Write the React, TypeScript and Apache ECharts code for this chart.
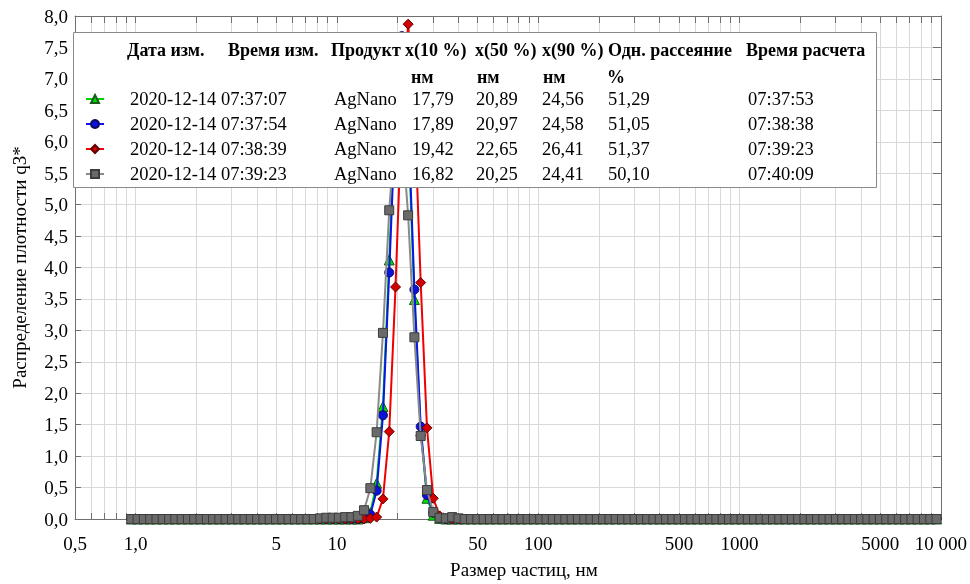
import React, { useEffect, useRef } from 'react';
import * as echarts from 'echarts';

const FONT = 'Liberation Serif';

// particle size classes (nm)
const sizes = [
  0.952,
  1.023, 1.099, 1.181, 1.270, 1.364, 1.466, 1.575, 1.693, 1.819, 1.955, 2.101, 2.258, 2.426, 2.607, 2.801, 3.010,
  3.235, 3.476, 3.736, 4.015, 4.314, 4.636, 4.982, 5.353, 5.753, 6.182, 6.643, 7.139, 7.671, 8.244, 8.859, 9.520,
  10.23, 10.99, 11.81, 12.70, 13.64, 14.66, 15.75, 16.93, 18.19, 19.55, 21.01, 22.58, 24.26, 26.07, 28.01, 30.10,
  32.35, 34.76, 37.36, 40.15, 43.14, 46.36, 49.82, 53.53, 57.53, 61.82, 66.43, 71.39, 76.71, 82.44, 88.59, 95.20,
  102.3, 109.9, 118.1, 127.0, 136.4, 146.6, 157.5, 169.3, 181.9, 195.5, 210.1, 225.8, 242.6, 260.7, 280.1, 301.0,
  323.5, 347.6, 373.6, 401.5, 431.4, 463.6, 498.2, 535.3, 575.3, 618.2, 664.3, 713.9, 767.1, 824.4, 885.9, 952.0,
  1023, 1099, 1181, 1270, 1364, 1466, 1575, 1693, 1819, 1955, 2101, 2258, 2426, 2607, 2801, 3010,
  3235, 3476, 3736, 4015, 4314, 4636, 4982, 5353, 5753, 6182, 6643, 7139, 7671, 8244, 8859, 9520,
];

const greenValues = [
  0, 0, 0, 0, 0, 0, 0, 0, 0, 0,
  0, 0, 0, 0, 0, 0, 0, 0, 0, 0,
  0, 0, 0, 0, 0, 0, 0, 0, 0, 0,
  0, 0, 0, 0, 0, 0, 0, 0.02, 0.10, 0.57,
  1.79, 4.12, 6.6, 7.6, 6.2, 3.49, 1.40, 0.33, 0.06, 0.01,
  0, 0, 0, 0, 0, 0, 0, 0, 0, 0,
  0, 0, 0, 0, 0, 0, 0, 0, 0, 0,
  0, 0, 0, 0, 0, 0, 0, 0, 0, 0,
  0, 0, 0, 0, 0, 0, 0, 0, 0, 0,
  0, 0, 0, 0, 0, 0, 0, 0, 0, 0,
  0, 0, 0, 0, 0, 0, 0, 0, 0, 0,
  0, 0, 0, 0, 0, 0, 0, 0, 0, 0,
  0, 0, 0, 0, 0, 0, 0, 0, 0,
];

const blueValues = [
  0, 0, 0, 0, 0, 0, 0, 0, 0, 0,
  0, 0, 0, 0, 0, 0, 0, 0, 0, 0,
  0, 0, 0, 0, 0, 0, 0, 0, 0, 0,
  0, 0, 0, 0, 0, 0, 0, 0.01, 0.07, 0.45,
  1.65, 3.92, 6.43, 7.68, 6.43, 3.65, 1.47, 0.38, 0.10, 0.01,
  0, 0, 0, 0, 0, 0, 0, 0, 0, 0,
  0, 0, 0, 0, 0, 0, 0, 0, 0, 0,
  0, 0, 0, 0, 0, 0, 0, 0, 0, 0,
  0, 0, 0, 0, 0, 0, 0, 0, 0, 0,
  0, 0, 0, 0, 0, 0, 0, 0, 0, 0,
  0, 0, 0, 0, 0, 0, 0, 0, 0, 0,
  0, 0, 0, 0, 0, 0, 0, 0, 0, 0,
  0, 0, 0, 0, 0, 0, 0, 0, 0,
];

const redValues = [
  0, 0, 0, 0, 0, 0, 0, 0, 0, 0,
  0, 0, 0, 0, 0, 0, 0, 0, 0, 0,
  0, 0, 0, 0, 0, 0, 0, 0, 0, 0,
  0, 0, 0, 0, 0, 0, 0, 0, 0.01, 0.03,
  0.32, 1.39, 3.69, 6.5, 7.87, 6.55, 3.76, 1.45, 0.33, 0.05,
  0.01, 0, 0, 0, 0, 0, 0, 0, 0, 0,
  0, 0, 0, 0, 0, 0, 0, 0, 0, 0,
  0, 0, 0, 0, 0, 0, 0, 0, 0, 0,
  0, 0, 0, 0, 0, 0, 0, 0, 0, 0,
  0, 0, 0, 0, 0, 0, 0, 0, 0, 0,
  0, 0, 0, 0, 0, 0, 0, 0, 0, 0,
  0, 0, 0, 0, 0, 0, 0, 0, 0, 0,
  0, 0, 0, 0, 0, 0, 0, 0, 0,
];

const grayValues = [
  0, 0, 0, 0, 0, 0, 0, 0, 0, 0,
  0, 0, 0, 0, 0, 0, 0, 0, 0, 0,
  0, 0, 0, 0, 0, 0, 0, 0, 0, 0,
  0.01, 0.02, 0.02, 0.02, 0.03, 0.03, 0.05, 0.14, 0.49, 1.38,
  2.96, 4.91, 6.25, 6.2, 4.83, 2.89, 1.32, 0.46, 0.11, 0.02,
  0.01, 0.03, 0.01, 0, 0, 0, 0, 0, 0, 0,
  0, 0, 0, 0, 0, 0, 0, 0, 0, 0,
  0, 0, 0, 0, 0, 0, 0, 0, 0, 0,
  0, 0, 0, 0, 0, 0, 0, 0, 0, 0,
  0, 0, 0, 0, 0, 0, 0, 0, 0, 0,
  0, 0, 0, 0, 0, 0, 0, 0, 0, 0,
  0, 0, 0, 0, 0, 0, 0, 0, 0, 0,
  0, 0, 0, 0, 0, 0, 0, 0, 0,
];

const xLabelValues = [0.5, 1, 5, 10, 50, 100, 500, 1000, 5000, 10000];
const xLabelTexts = ['0,5', '1,0', '5', '10', '50', '100', '500', '1000', '5000', '10 000'];
const xTickValues = [
  0.5, 0.6, 0.7, 0.8, 0.9,
  1, 2, 3, 4, 5, 6, 7, 8, 9,
  10, 20, 30, 40, 50, 60, 70, 80, 90,
  100, 200, 300, 400, 500, 600, 700, 800, 900,
  1000, 2000, 3000, 4000, 5000, 6000, 7000, 8000, 9000,
  10000,
];

const headerRow1 = ['Дата изм.', 'Время изм.', 'Продукт', 'x(10 %)', 'x(50 %)', 'x(90 %)', 'Одн. рассеяние', 'Время расчета'];
const headerRow2 = ['', '', '', 'нм', 'нм', 'нм', '%', ''];

const rowDates = ['2020-12-14 07:37:07', '2020-12-14 07:37:54', '2020-12-14 07:38:39', '2020-12-14 07:39:23'];
const rowProducts = ['AgNano', 'AgNano', 'AgNano', 'AgNano'];
const rowX10 = ['17,79', '17,89', '19,42', '16,82'];
const rowX50 = ['20,89', '20,97', '22,65', '20,25'];
const rowX90 = ['24,56', '24,58', '26,41', '24,41'];
const rowScatter = ['51,29', '51,05', '51,37', '50,10'];
const rowCalcTime = ['07:37:53', '07:38:38', '07:39:23', '07:40:09'];

export default function App() {
  const ref = useRef<HTMLDivElement>(null);

  useEffect(() => {
    document.body.style.margin = '0';
    if (!ref.current) return;
    const chart = echarts.init(ref.current, null, { renderer: 'svg' });

    const header1X = [127, 228, 331, 405, 475, 542, 608, 746];
    const header2X = [0, 0, 0, 411, 477, 543, 607, 0];

    const graphicEls: any[] = [
      {
        type: 'rect',
        z: 100,
        shape: { x: 73.5, y: 32.5, width: 803, height: 155 },
        style: { fill: '#ffffff', stroke: '#8a8a8a', lineWidth: 1 },
        silent: true,
      },
    ];
    headerRow1.forEach((t, i) => {
      graphicEls.push({
        type: 'text', z: 102, x: header1X[i], y: 50,
        style: { text: t, font: `bold 18px "${FONT}"`, fill: '#000', align: 'left', verticalAlign: 'middle' },
        silent: true,
      });
    });
    headerRow2.forEach((t, i) => {
      if (!t) return;
      graphicEls.push({
        type: 'text', z: 102, x: header2X[i], y: 77,
        style: { text: t, font: `bold 18px "${FONT}"`, fill: '#000', align: 'left', verticalAlign: 'middle' },
        silent: true,
      });
    });

    const rs = (w: number) => ({ width: w, fontFamily: FONT, fontSize: 18.5, color: '#000', lineHeight: 20 });

    const mk = (
      name: string, values: number[], symbol: string, symbolSize: number,
      lineColor: string, fill: string, border: string, z: number,
    ) => ({
      type: 'line',
      name,
      z,
      data: sizes.map((s, i) => [s, values[i]]),
      symbol,
      symbolSize,
      showAllSymbol: true,
      smooth: false,
      lineStyle: { color: lineColor, width: 2 },
      itemStyle: { color: fill, borderColor: border, borderWidth: 1 },
      emphasis: { disabled: true },
      clip: true,
    });

    const fmtX = (v: number) => {
      const i = xLabelValues.findIndex((x) => Math.abs(Math.log10(x) - Math.log10(v)) < 0.01);
      return i >= 0 ? xLabelTexts[i] : '';
    };

    const axisColor = '#707070';

    chart.setOption({
      animation: false,
      textStyle: { fontFamily: FONT },
      grid: { left: 75, right: 27, top: 16, bottom: 63, containLabel: false },
      xAxis: [
        {
          type: 'log', logBase: 10, min: 0.5, max: 10000, position: 'bottom',
          axisLine: { show: true, onZero: false, lineStyle: { color: axisColor, width: 1 } },
          axisTick: { show: true, inside: true, length: 6, customValues: xTickValues, lineStyle: { color: axisColor } },
          axisLabel: {
            show: true, customValues: xLabelValues, formatter: fmtX, margin: 15,
            fontFamily: FONT, fontSize: 19, color: '#000',
          },
          splitLine: { show: true, lineStyle: { color: '#d9d9d9', width: 1 } },
          minorTick: { show: false }, minorSplitLine: { show: false },
          name: 'Размер частиц, нм', nameLocation: 'middle', nameGap: 41,
          nameTextStyle: { fontFamily: FONT, fontSize: 19, color: '#000', padding: [0, 0, 0, 32] },
        },
        {
          type: 'log', logBase: 10, min: 0.5, max: 10000, position: 'top',
          axisLine: { show: true, onZero: false, lineStyle: { color: axisColor, width: 1 } },
          axisTick: { show: true, inside: true, length: 7, customValues: xTickValues, lineStyle: { color: axisColor } },
          axisLabel: { show: false },
          splitLine: { show: false },
        },
      ],
      yAxis: [
        {
          type: 'value', min: 0, max: 8, interval: 0.5, position: 'left',
          axisLine: { show: true, lineStyle: { color: axisColor, width: 1 } },
          axisTick: { show: true, inside: true, length: 6, lineStyle: { color: axisColor } },
          axisLabel: {
            show: true, margin: 7, fontFamily: FONT, fontSize: 19, color: '#000',
            formatter: (v: number) => v.toFixed(1).replace('.', ','),
          },
          splitLine: { show: true, lineStyle: { color: '#d9d9d9', width: 1 } },
          name: 'Распределение плотности q3*', nameLocation: 'middle', nameGap: 46,
          nameTextStyle: { fontFamily: FONT, fontSize: 19, color: '#000' },
        },
        {
          type: 'value', min: 0, max: 8, interval: 0.5, position: 'right',
          axisLine: { show: true, lineStyle: { color: axisColor, width: 1 } },
          axisTick: { show: true, inside: true, length: 8, lineStyle: { color: axisColor } },
          axisLabel: { show: false },
          splitLine: { show: false },
        },
      ],
      legend: {
        orient: 'vertical', left: 85, top: 89, padding: 0, itemGap: 5,
        itemWidth: 18, itemHeight: 10, selectedMode: false, z: 101,
        data: rowDates,
        formatter: (name: string) => {
          const i = rowDates.indexOf(name);
          return `{sp| }{dt|${rowDates[i]}}{pr|${rowProducts[i]}}{a|${rowX10[i]}}{b|${rowX50[i]}}{c|${rowX90[i]}}{d|${rowScatter[i]}}{t|${rowCalcTime[i]}}`;
        },
        textStyle: {
          fontFamily: FONT, fontSize: 18.5, color: '#000', lineHeight: 20,
          rich: {
            sp: rs(21), dt: rs(204), pr: rs(78), a: rs(64), b: rs(66), c: rs(66), d: rs(140), t: rs(90),
          },
        },
      },
      graphic: { elements: graphicEls, z: 100 },
      series: [
        mk(rowDates[0], greenValues, 'triangle', 10, '#00d000', '#00dd00', '#1a5a1a', 2),
        mk(rowDates[1], blueValues, 'circle', 9, '#0a14f0', '#0a14d8', '#0a0a60', 3),
        mk(rowDates[2], redValues, 'diamond', 10, '#f00000', '#d40000', '#600000', 4),
        mk(rowDates[3], grayValues, 'rect', 9, '#8a8a8a', '#6a6a6a', '#3c3c3c', 5),
      ],
    });

    return () => chart.dispose();
  }, []);

  return <div ref={ref} style={{ width: 970, height: 584, position: 'fixed', left: 0, top: 0 }} />;
}
